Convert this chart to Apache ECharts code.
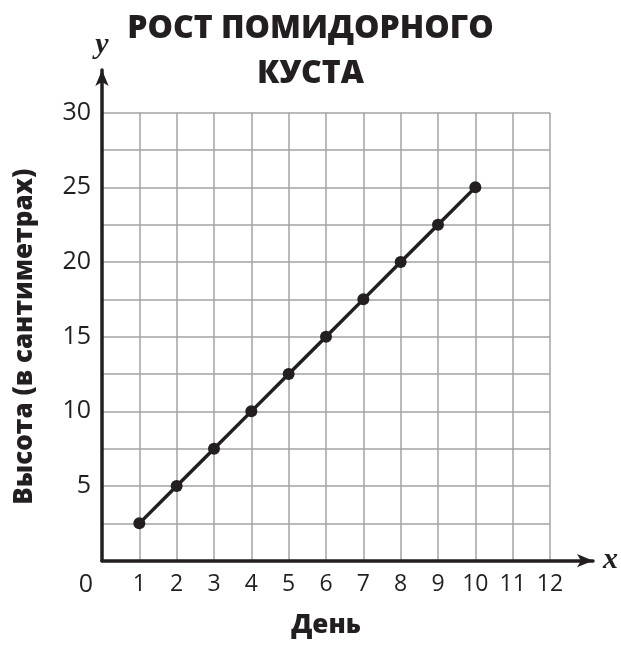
<!DOCTYPE html>
<html>
<head>
<meta charset="utf-8">
<script src="https://cdn.jsdelivr.net/npm/echarts@6/dist/echarts.min.js"></script>
<style>html,body{margin:0;padding:0;background:#fff;}#c{width:621px;height:648px;}</style>
</head>
<body>
<div id="c"></div>
<script>
const titleText = 'РОСТ ПОМИДОРНОГО\nКУСТА';
const xName = 'День';
const yName = 'Высота (в сантиметрах)';
const days = [1, 2, 3, 4, 5, 6, 7, 8, 9, 10];
const heights = [2.5, 5, 7.5, 10, 12.5, 15, 17.5, 20, 22.5, 25];
const xRange = [0, 12];
const yRange = [0, 30];

const ink = '#231f20';
const gridColor = '#a3a3a3';
const chart = echarts.init(document.getElementById('c'));
chart.setOption({
  backgroundColor: '#fff',
  animation: false,
  title: {
    text: titleText, left: 'center', top: 1,
    textStyle: { fontFamily: 'Open Sans', fontWeight: 800, fontSize: 32, color: ink, lineHeight: 45 }
  },
  grid: [
    { left: 102, right: 71, top: 112.7, bottom: 87.3 },
    { left: 102, right: 26, top: 70, bottom: 87.3 }
  ],
  xAxis: [
    {
      gridIndex: 0, type: 'value', min: xRange[0], max: xRange[1], interval: 1,
      name: xName, nameLocation: 'middle', nameGap: 52,
      nameTextStyle: { fontFamily: 'Open Sans', fontWeight: 800, fontSize: 26, color: ink },
      axisLine: { show: false }, axisTick: { show: false },
      axisLabel: {
        margin: 12, fontFamily: 'Open Sans', fontSize: 23, color: ink,
        formatter: v => v === 0 ? '{z|0}' : String(v),
        rich: { z: { fontFamily: 'Open Sans', fontSize: 25, color: ink, padding: [0, 32, 6, 0] } }
      },
      splitLine: { show: true, lineStyle: { color: gridColor, width: 1.5 } }
    },
    {
      gridIndex: 1, type: 'value', min: 0, max: 1,
      name: 'x', nameLocation: 'end', nameGap: 10,
      nameTextStyle: { fontFamily: 'Liberation Serif', fontStyle: 'italic', fontWeight: 'bold', fontSize: 30, color: ink, verticalAlign: 'middle', padding: [0, 0, 6, 0] },
      axisLine: { show: true, symbol: ['none', 'arrow'], symbolSize: [10, 16], lineStyle: { color: ink, width: 3.5 } },
      axisTick: { show: false }, axisLabel: { show: false }, splitLine: { show: false }
    }
  ],
  yAxis: [
    {
      gridIndex: 0, type: 'value', min: yRange[0], max: yRange[1], interval: 2.5,
      name: yName, nameLocation: 'middle', nameGap: 64,
      nameTextStyle: { fontFamily: 'Open Sans', fontWeight: 800, fontSize: 26, color: ink },
      axisLine: { show: false }, axisTick: { show: false },
      axisLabel: {
        margin: 11, fontFamily: 'Open Sans', fontSize: 25, color: ink,
        formatter: v => (v !== 0 && v % 5 === 0) ? String(v) : ''
      },
      splitLine: { show: true, lineStyle: { color: gridColor, width: 1.5 } }
    },
    {
      gridIndex: 1, type: 'value', min: 0, max: 1,
      name: 'y', nameLocation: 'end', nameGap: 10,
      nameTextStyle: { fontFamily: 'Liberation Serif', fontStyle: 'italic', fontWeight: 'bold', fontSize: 30, color: ink, align: 'center' },
      axisLine: { show: true, symbol: ['none', 'arrow'], symbolSize: [10, 16], lineStyle: { color: ink, width: 3.5 } },
      axisTick: { show: false }, axisLabel: { show: false }, splitLine: { show: false }
    }
  ],
  series: [{
    type: 'line', xAxisIndex: 0, yAxisIndex: 0,
    data: days.map((d, i) => [d, heights[i]]),
    symbol: 'circle', symbolSize: 12,
    lineStyle: { color: ink, width: 3.5 },
    itemStyle: { color: ink },
    z: 5
  }]
});
</script>
</body>
</html>
